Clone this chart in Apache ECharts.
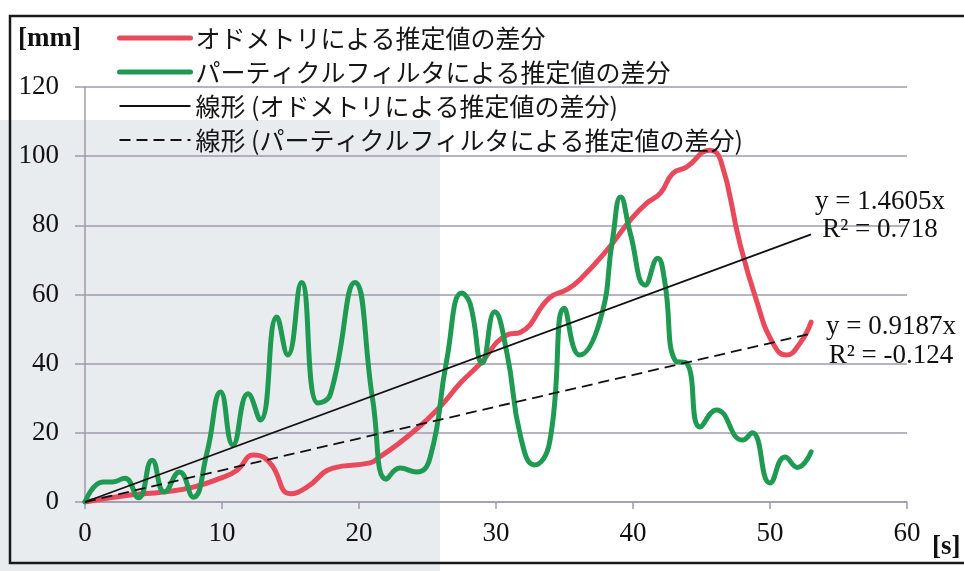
<!DOCTYPE html>
<html>
<head>
<meta charset="utf-8">
<script src="https://cdn.jsdelivr.net/npm/echarts@6/dist/echarts.min.js"></script>
<style>
  html, body { margin: 0; padding: 0; background: #fff; }
  #chart { width: 964px; height: 571px; }
</style>
</head>
<body>
<div id="chart"></div>
<script>
// Difference of the estimates over time [s] -> [mm]
const seriesNames = [
  'オドメトリによる推定値の差分',
  'パーティクルフィルタによる推定値の差分',
  '線形 (オドメトリによる推定値の差分)',
  '線形 (パーティクルフィルタによる推定値の差分)'
];

// odometry estimate difference: [time s, diff mm]
const odometryDiff = [
  [0, 0], [3.3, 2], [5.7, 2.9], [7.9, 4.3], [9.9, 6.9], [11.1, 9.2], [12.3, 13.6],
  [13.5, 11.3], [15, 2.4], [16.2, 4.3], [18.1, 9.8], [20.8, 11.3], [21.5, 13],
  [23.5, 18.8], [25.9, 27.5], [27.4, 34.4], [28.8, 39.8], [30.8, 48.3], [31.8, 49.1],
  [33.9, 59], [35.2, 61.5], [36.1, 64.2], [38.1, 72.8], [39.8, 81.5], [41, 86.4],
  [42, 89.3], [42.9, 95], [43.9, 96.8], [45.6, 101.7], [46.4, 98.8], [47.8, 74.8],
  [49, 58.4], [50.2, 46], [51.2, 42.5], [52.2, 46], [53, 52]
];

// particle filter estimate difference: [time s, diff mm]
const particleDiff = [
  [0, 0], [1.3, 5.8], [2, 5.8], [2.9, 6.9], [3.9, 1.2], [4.9, 12.1], [5.8, 2.9],
  [6.9, 8.7], [7.9, 1.4], [8.9, 14.2], [9.9, 31.8], [10.8, 16.5], [11.9, 31.3],
  [12.8, 23.7], [14, 53.5], [14.8, 42.5], [15.8, 63.5], [17, 28.6], [17.9, 31],
  [19.7, 63.5], [21, 29.5], [22, 6.6], [23, 9.8], [24.2, 8.7], [25.2, 13],
  [26.4, 41], [27.5, 60.4], [28.1, 57.5], [29, 40.2], [29.9, 55], [30.8, 43],
  [31.8, 18.8], [32.8, 10.7], [33.9, 17], [35, 56], [36.1, 42.5], [37.6, 52.6],
  [38.5, 75.7], [39.1, 88.2], [39.8, 77.7], [40.9, 62.7], [41.8, 70.5], [42.3, 64.2],
  [43.1, 40.8], [43.9, 40.2], [44.9, 21.7], [46.1, 26.6], [48, 17.9], [48.7, 20],
  [50, 5.5], [51.1, 13], [52, 10], [53, 14.5]
];

// linear fits through the origin: slope and R²
const fitSlopes = [1.4605, 0.9187];
const fitR2 = ['0.718', '-0.124'];
const fitRange = [0, 53];

// axis ticks
const xTicks = { min: 0, max: 60, interval: 10 };
const yTicks = { min: 0, max: 120, interval: 20 };

const serif = '"Liberation Serif", "DejaVu Serif", serif';
const jp = '"Noto Sans CJK JP", sans-serif';

const fitLine = (k) => fitRange.map(x => [x, +(k * x).toFixed(3)]);

const chart = echarts.init(document.getElementById('chart'), null, { renderer: 'canvas' });

chart.setOption({
  backgroundColor: '#ffffff',
  animation: false,
  grid: { left: 85, right: 57, top: 87, bottom: 69, containLabel: false },
  legend: {
    orient: 'vertical',
    left: 112,
    top: 18,
    itemWidth: 71,
    itemHeight: 14,
    itemGap: 4,
    data: seriesNames,
    itemStyle: { opacity: 0 },
    lineStyle: { width: 'inherit' },
    textStyle: {
      fontFamily: jp,
      fontSize: 25,
      color: '#151515',
      lineHeight: 30,
      padding: [0, 0, 0, 0]
    }
  },
  xAxis: {
    type: 'value',
    min: xTicks.min, max: xTicks.max, interval: xTicks.interval,
    axisLine: { show: true, onZero: false, lineStyle: { color: '#9c9cab', width: 1.5 } },
    axisTick: { show: true, inside: false, length: 7, lineStyle: { color: '#9c9cab', width: 1.5 } },
    splitLine: { show: false },
    axisLabel: { fontFamily: serif, fontSize: 27, color: '#111', margin: 18 }
  },
  yAxis: {
    type: 'value',
    min: yTicks.min, max: yTicks.max, interval: yTicks.interval,
    axisLine: { show: true, lineStyle: { color: '#9c9cab', width: 1.5 } },
    axisTick: { show: true, length: 10, lineStyle: { color: '#9c9cab', width: 1.5 } },
    splitLine: { show: true, lineStyle: { color: '#9c9cab', width: 1.5 } },
    axisLabel: { fontFamily: serif, fontSize: 27, color: '#111', margin: 26 }
  },
  graphic: [
    // shaded panel behind the left part of the plot
    { type: 'rect', z: -1, silent: true,
      shape: { x: 0, y: 120, width: 440, height: 451 },
      style: { fill: '#e9ecef' } },
    // outer frame
    { type: 'polyline', z: 10, silent: true,
      shape: { points: [[964, 16], [10, 16], [10, 563], [964, 563]] },
      style: { stroke: '#1a1a1a', lineWidth: 2.5, fill: null } },
    { type: 'text', left: 18, top: 26, z: 10,
      style: { text: '[mm]', font: 'bold 27px ' + serif, fill: '#111' } },
    { type: 'text', left: 932, top: 534, z: 10,
      style: { text: '[s]', font: 'bold 27px ' + serif, fill: '#111' } },
    { type: 'text', z: 10, x: 880, y: 202,
      style: { text: 'y = ' + fitSlopes[0] + 'x', font: '27px ' + serif, fill: '#111',
               align: 'center', verticalAlign: 'middle' } },
    { type: 'text', z: 10, x: 880, y: 230,
      style: { text: 'R² = ' + fitR2[0], font: '27px ' + serif, fill: '#111',
               align: 'center', verticalAlign: 'middle' } },
    { type: 'text', z: 10, x: 891, y: 327,
      style: { text: 'y = ' + fitSlopes[1] + 'x', font: '27px ' + serif, fill: '#111',
               align: 'center', verticalAlign: 'middle' } },
    { type: 'text', z: 10, x: 891, y: 356,
      style: { text: 'R² = ' + fitR2[1], font: '27px ' + serif, fill: '#111',
               align: 'center', verticalAlign: 'middle' } }
  ],
  series: [
    {
      name: seriesNames[0], type: 'line', data: odometryDiff,
      smooth: 0.5, symbol: 'none', z: 3,
      lineStyle: { color: '#e84a5c', width: 5, cap: 'round', join: 'round' },
      itemStyle: { color: '#e84a5c' }
    },
    {
      name: seriesNames[1], type: 'line', data: particleDiff,
      smooth: 0.5, symbol: 'none', z: 4,
      lineStyle: { color: '#1f9a52', width: 5, cap: 'round', join: 'round' },
      itemStyle: { color: '#1f9a52' }
    },
    {
      name: seriesNames[2], type: 'line', data: fitLine(fitSlopes[0]),
      symbol: 'none', z: 5,
      lineStyle: { color: '#111', width: 1.8 },
      itemStyle: { color: '#111' }
    },
    {
      name: seriesNames[3], type: 'line', data: fitLine(fitSlopes[1]),
      symbol: 'none', z: 5,
      lineStyle: { color: '#111', width: 1.8, type: [11, 6] },
      itemStyle: { color: '#111' }
    }
  ]
});
</script>
</body>
</html>
